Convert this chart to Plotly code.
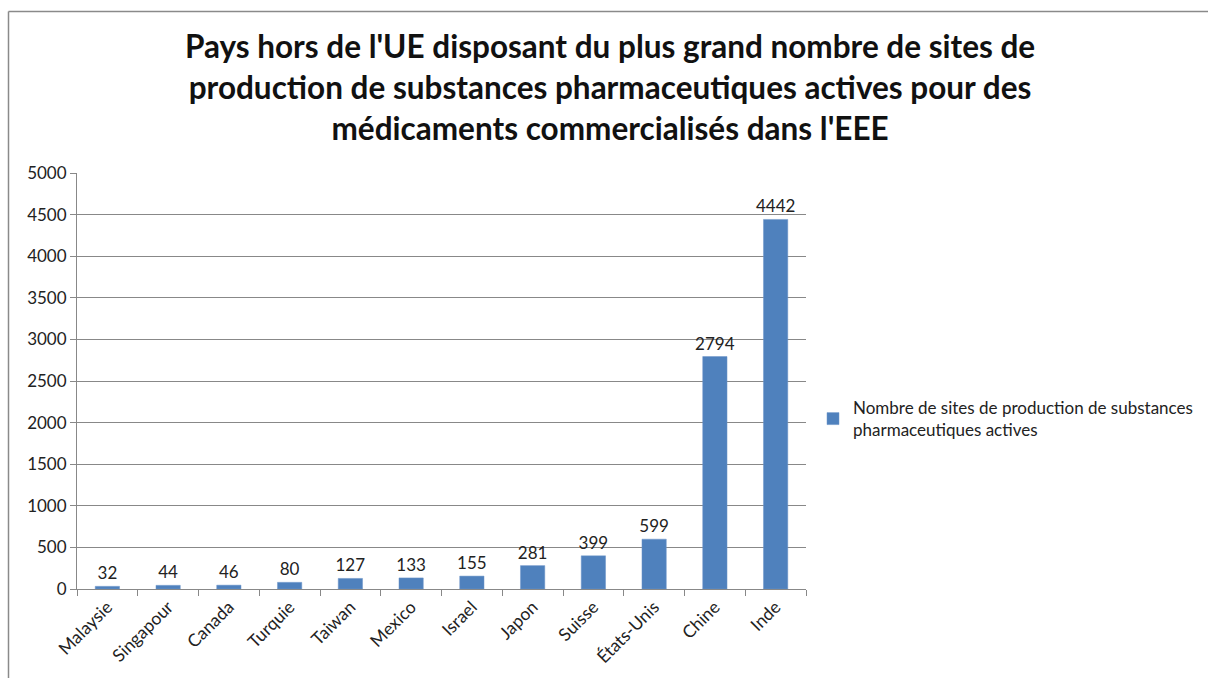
import plotly.graph_objects as go

categories = ["Malaysie", "Singapour", "Canada", "Turquie", "Taiwan", "Mexico",
              "Israel", "Japon", "Suisse", "États-Unis", "Chine", "Inde"]
values = [32, 44, 46, 80, 127, 133, 155, 281, 399, 599, 2794, 4442]
series_name = "Nombre de sites de production de substances<br>pharmaceutiques actives"
title_text = ("Pays hors de l'UE disposant du plus grand nombre de sites de<br>"
              "production de substances pharmaceutiques actives pour des<br>"
              "médicaments commercialisés dans l'EEE")
y_ticks = [0, 500, 1000, 1500, 2000, 2500, 3000, 3500, 4000, 4500, 5000]

FONT = "Lato"
W, H = 1208, 678
L, R, T, B = 77, 402, 173, 89
pw, ph = W - L - R, H - T - B

def px_x(p):
    return (p - L) / pw

def px_y(p):
    return (H - B - p) / ph

fig = go.Figure()
fig.add_trace(go.Bar(
    x=categories, y=values, name=series_name,
    marker=dict(color="#4F81BD", line=dict(color="#6C95C8", width=0.5)),
    text=[str(v) for v in values], textposition="outside",
    constraintext="none",
    textfont=dict(family=FONT, size=17, color="#222"),
    cliponaxis=False, showlegend=True,
))

border = dict(color="#8a8a8a", width=1.5)
fig.update_layout(
    width=W, height=H,
    margin=dict(l=L, r=R, t=T, b=B, autoexpand=False),
    paper_bgcolor="white", plot_bgcolor="white",
    font=dict(family=FONT, size=16, color="#222"),
    title=dict(text="<b>" + title_text + "</b>", x=0.505, xanchor="center",
               y=1 - 58 / H, yanchor="top",
               font=dict(family=FONT, size=31.5, color="#111")),
    bargap=0.6,
    showlegend=True,
    legend=dict(x=px_x(813), xanchor="left", y=px_y(419), yanchor="middle",
                font=dict(family=FONT, size=17, color="#222"),
                itemwidth=30, bgcolor="rgba(0,0,0,0)"),
    xaxis=dict(showline=True, linecolor="#888", linewidth=1,
               ticks="outside", ticklen=6, tickcolor="#888",
               tickson="boundaries", tickangle=-45,
               tickfont=dict(family=FONT, size=17.5, color="#222"),
               showgrid=False, automargin=False),
    yaxis=dict(range=[0, 5000], tickvals=y_ticks, showline=True,
               linecolor="#888", linewidth=1, ticks="outside", ticklen=6,
               tickcolor="#888", gridcolor="#888", gridwidth=1,
               tickfont=dict(family=FONT, size=17, color="#222"),
               zeroline=False, automargin=False),
    shapes=[
        dict(type="line", xref="paper", yref="paper",
             x0=px_x(8.5), x1=px_x(1208), y0=px_y(11.5), y1=px_y(11.5),
             line=border, layer="above"),
        dict(type="line", xref="paper", yref="paper",
             x0=px_x(8.5), x1=px_x(8.5), y0=px_y(678), y1=px_y(11.5),
             line=border, layer="above"),
    ],
)

fig.write_html("out.html", config={"displayModeBar": False},
               post_script="document.body.style.margin='0';document.body.style.overflow='hidden';")
